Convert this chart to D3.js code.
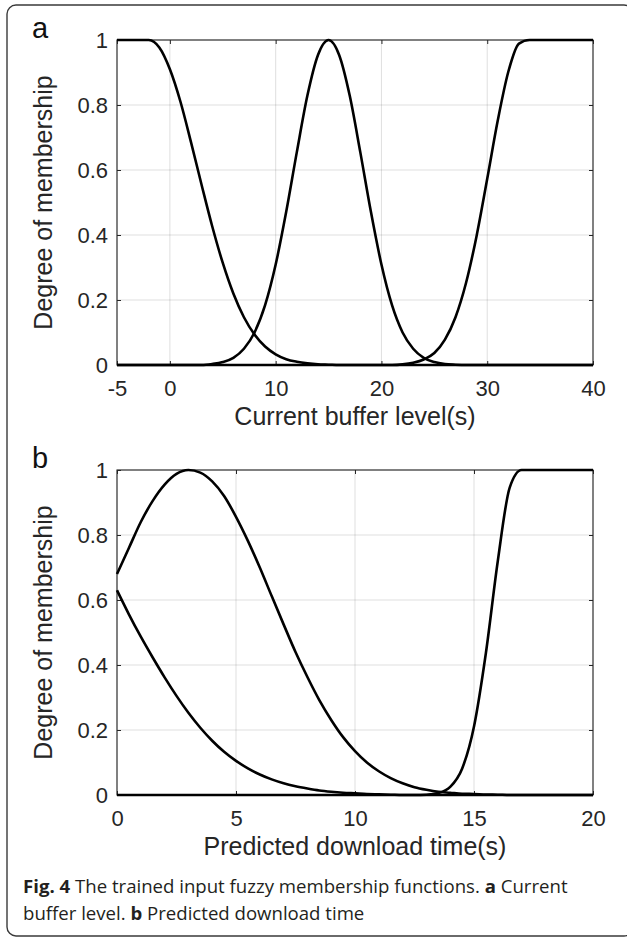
<!DOCTYPE html>
<html>
<head>
<meta charset="utf-8">
<script src="https://cdn.jsdelivr.net/npm/d3@7"></script>
<style>
  body { margin: 0; background: #fff; }
  svg { display: block; }
</style>
</head>
<body>
<div id="chart"></div>
<script>
// Panel a: current buffer level (s)
const bufferX = [-5, -4, -3, -2, -1, 0, 1, 2, 3, 4, 5, 6, 7, 8, 9, 10, 11, 12, 13, 14, 15, 16, 17, 18, 19, 20,
    21, 22, 23, 24, 25, 26, 27, 28, 29, 30, 31, 32, 33, 34, 35, 36, 37, 38, 39, 40];
const bufferLow = [1, 1, 1, 1, 0.977, 0.91, 0.81, 0.685, 0.554, 0.427, 0.314, 0.22, 0.147, 0.094, 0.057, 0.033,
    0.018, 0.01, 0.005, 0.002, 0.001, 0, 0, 0, 0, 0, 0, 0, 0, 0, 0, 0, 0, 0, 0, 0, 0, 0, 0, 0, 0, 0, 0, 0, 0, 0];
const bufferMedium = [0, 0, 0, 0, 0, 0, 0, 0, 0, 0.003, 0.009, 0.022, 0.05, 0.1, 0.184, 0.309, 0.472, 0.655, 0.829,
    0.954, 1, 0.954, 0.829, 0.655, 0.472, 0.309, 0.184, 0.1, 0.05, 0.022, 0.009, 0.003, 0.001,
    0, 0, 0, 0, 0, 0, 0, 0, 0, 0, 0, 0, 0];
const bufferHigh = [0, 0, 0, 0, 0, 0, 0, 0, 0, 0, 0, 0, 0, 0, 0, 0, 0, 0, 0, 0, 0, 0, 0, 0, 0, 0, 0,
    0.002, 0.007, 0.017, 0.037, 0.078, 0.147, 0.253, 0.398, 0.573, 0.753, 0.903, 0.989, 1, 1, 1, 1, 1, 1, 1];
const bufferTicks = [-5, 0, 10, 20, 30, 40];

// Panel b: predicted download time (s)
const downloadX = [0, 0.5, 1, 1.5, 2, 2.5, 3, 3.5, 4, 4.5, 5, 5.5, 6, 6.5, 7, 7.5, 8, 8.5, 9, 9.5, 10,
    10.5, 11, 11.5, 12, 12.5, 13, 13.5, 14, 14.5, 15, 15.5, 16, 16.5, 17, 17.5, 18, 18.5, 19, 19.5, 20];
const downloadShort = [0.63, 0.556, 0.487, 0.423, 0.362, 0.305, 0.253, 0.207, 0.167, 0.133, 0.105, 0.082, 0.063,
    0.048, 0.036, 0.027, 0.02, 0.014, 0.01, 0.007, 0.005, 0.003, 0.002, 0.001, 0, 0, 0, 0, 0, 0, 0, 0, 0, 0, 0,
    0, 0, 0, 0, 0, 0];
const downloadMedium = [0.68, 0.76, 0.84, 0.905, 0.955, 0.988, 1, 0.992, 0.965, 0.92, 0.856, 0.782, 0.7, 0.612,
    0.525, 0.44, 0.363, 0.292, 0.231, 0.178, 0.135, 0.1, 0.073, 0.052, 0.036, 0.024, 0.016, 0.01, 0.007,
    0.004, 0.003, 0.0015, 0.001, 0, 0, 0, 0, 0, 0, 0, 0];
const downloadLong = [0, 0, 0, 0, 0, 0, 0, 0, 0, 0, 0, 0, 0, 0, 0, 0, 0, 0, 0, 0, 0, 0, 0, 0, 0, 0,
    0.001, 0.006, 0.025, 0.081, 0.211, 0.437, 0.72, 0.946, 1, 1, 1, 1, 1, 1, 1];
const downloadTicks = [0, 5, 10, 15, 20];

const membershipTicks = [0, 0.2, 0.4, 0.6, 0.8, 1];

const width = 627;
const height = 937;
const ink = "#262626";
const axisFont = "'Liberation Sans', Arial, Helvetica, sans-serif";

const svg = d3.select("#chart")
    .append("svg")
    .attr("width", width)
    .attr("height", height)
    .style("background", "#fff");

// Rounded frame around the figure
svg.append("rect")
    .attr("x", 7)
    .attr("y", 5)
    .attr("width", 626)
    .attr("height", 931)
    .attr("rx", 9)
    .attr("fill", "none")
    .attr("stroke", "#3a3a3a")
    .attr("stroke-width", 1.4);

function drawPanel(opts) {
    const { top, xDomain, xTicks, xs, series, xLabel, letter } = opts;
    const left = 117, right = 593, plotH = 325;

    const x = d3.scaleLinear().domain(xDomain).range([left, right]);
    const y = d3.scaleLinear().domain([0, 1]).range([top + plotH, top]);

    const g = svg.append("g");

    // Grid
    g.append("g")
        .selectAll("line")
        .data(xTicks)
        .join("line")
        .attr("x1", d => x(d)).attr("x2", d => x(d))
        .attr("y1", top).attr("y2", top + plotH)
        .attr("stroke", ink).attr("stroke-opacity", 0.15).attr("stroke-width", 1);
    g.append("g")
        .selectAll("line")
        .data(membershipTicks)
        .join("line")
        .attr("x1", left).attr("x2", right)
        .attr("y1", d => y(d)).attr("y2", d => y(d))
        .attr("stroke", ink).attr("stroke-opacity", 0.15).attr("stroke-width", 1);

    // Box
    g.append("rect")
        .attr("x", left).attr("y", top)
        .attr("width", right - left).attr("height", plotH)
        .attr("fill", "none").attr("stroke", ink).attr("stroke-width", 1.1);

    // Axes with inward ticks
    const fmt = d => String(d);
    g.append("g")
        .attr("transform", `translate(0,${top + plotH})`)
        .call(d3.axisBottom(x).tickValues(xTicks).tickFormat(fmt).tickSize(-4).tickPadding(15));
    const leftAxis = g.append("g")
        .attr("transform", `translate(${left},0)`)
        .call(d3.axisLeft(y).tickValues(membershipTicks).tickFormat(fmt).tickSize(-4).tickPadding(9));
    g.append("g")
        .attr("transform", `translate(0,${top})`)
        .call(d3.axisTop(x).tickValues(xTicks).tickFormat("").tickSize(-4));
    g.append("g")
        .attr("transform", `translate(${right},0)`)
        .call(d3.axisRight(y).tickValues(membershipTicks).tickFormat("").tickSize(-4));

    g.selectAll(".domain").remove();
    g.selectAll(".tick line").attr("stroke", ink).attr("stroke-width", 1);
    g.selectAll(".tick text")
        .attr("fill", ink)
        .style("font-family", axisFont)
        .style("font-size", "22px");
    leftAxis.selectAll(".tick text").attr("dy", "0.36em");

    // Membership curves
    const line = d3.line()
        .x(d => x(d[0]))
        .y(d => y(d[1]))
        .curve(d3.curveMonotoneX);

    g.append("g")
        .selectAll("path")
        .data(series.map(s => xs.map((v, i) => [v, s[i]])))
        .join("path")
        .attr("d", line)
        .attr("fill", "none")
        .attr("stroke", "#000")
        .attr("stroke-width", 2.6)
        .attr("stroke-linejoin", "round");

    // Axis titles
    g.append("text")
        .attr("x", (left + right) / 2)
        .attr("y", top + plotH + 60)
        .attr("text-anchor", "middle")
        .attr("fill", ink)
        .style("font-family", axisFont)
        .style("font-size", "25px")
        .text(xLabel);

    g.append("text")
        .attr("transform", `translate(52,${top + plotH / 2}) rotate(-90)`)
        .attr("text-anchor", "middle")
        .attr("fill", ink)
        .style("font-family", axisFont)
        .style("font-size", "25px")
        .text("Degree of membership");

    // Panel letter
    g.append("text")
        .attr("x", 32)
        .attr("y", top - 2)
        .attr("fill", "#111")
        .style("font-family", axisFont)
        .style("font-size", "29px")
        .text(letter);
}

drawPanel({
    top: 40,
    xDomain: [-5, 40],
    xTicks: bufferTicks,
    xs: bufferX,
    series: [bufferLow, bufferMedium, bufferHigh],
    xLabel: "Current buffer level(s)",
    letter: "a"
});

drawPanel({
    top: 470,
    xDomain: [0, 20],
    xTicks: downloadTicks,
    xs: downloadX,
    series: [downloadShort, downloadMedium, downloadLong],
    xLabel: "Predicted download time(s)",
    letter: "b"
});

// Caption
const caption = svg.append("text")
    .attr("fill", "#231f20")
    .style("font-family", "'Open Sans', 'Noto Sans', sans-serif")
    .style("font-size", "18.6px");

const line1 = caption.append("tspan").attr("x", 23).attr("y", 893);
line1.append("tspan").style("font-weight", "bold").text("Fig. 4");
line1.append("tspan").text(" The trained input fuzzy membership functions. ");
line1.append("tspan").style("font-weight", "bold").text("a");
line1.append("tspan").text(" Current");

const line2 = caption.append("tspan").attr("x", 23).attr("y", 920);
line2.append("tspan").text("buffer level. ");
line2.append("tspan").style("font-weight", "bold").text("b");
line2.append("tspan").text(" Predicted download time");
</script>
</body>
</html>
